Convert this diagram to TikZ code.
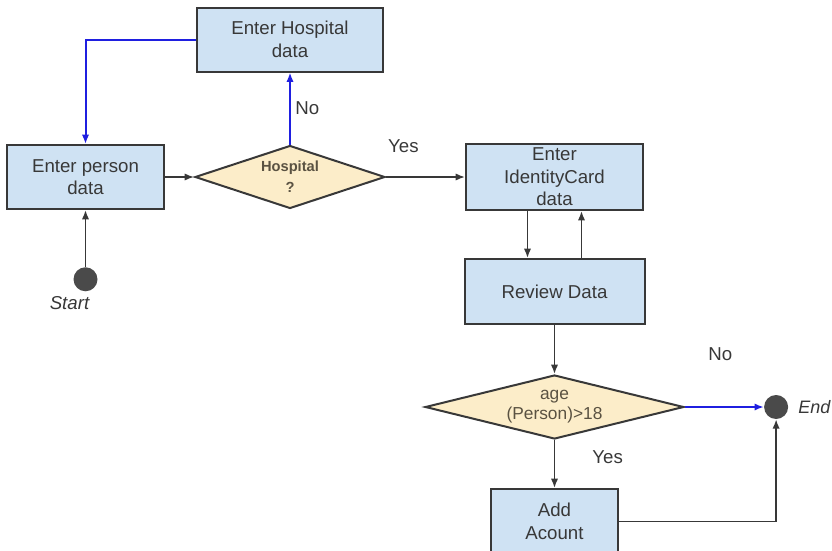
\documentclass[tikz,border=0pt]{standalone}
\usepackage{fontspec}
\setmainfont{Liberation Sans}
\definecolor{boxfill}{HTML}{CFE2F3}
\definecolor{decfill}{HTML}{FCEDC9}
\definecolor{edge}{HTML}{383838}
\definecolor{dectext}{HTML}{5A5242}
\definecolor{dotgray}{HTML}{4A4A4A}
\definecolor{loopblue}{HTML}{1F1FE0}
\usetikzlibrary{arrows.meta,positioning,shapes.geometric}

\begin{document}
\begin{tikzpicture}[
  x=0.75pt, y=-0.75pt,
  box/.style={draw=edge, line width=1.5pt, fill=boxfill, align=center, text=edge,
              font=\fontsize{14}{17}\selectfont, inner sep=0pt},
  dec/.style={diamond, draw=edge, line width=1.5pt, fill=decfill, align=center,
              text=dectext, inner sep=0pt},
  dot/.style={circle, fill=dotgray, minimum size=18pt, inner sep=0pt},
  lbl/.style={font=\fontsize{14}{17}\selectfont, text=edge},
  ar/.style ={-{Latex[length=7pt,width=5.5pt]}, line width=1.3pt, draw=edge},
  bar/.style={ar, draw=loopblue, line width=1.5pt},
]
  \useasboundingbox (0,0) rectangle (832,550);

  % ---- first row: person, hospital check, identity card ----
  \node[box, minimum width=117.75pt, minimum height=48pt] (person) at (85.5,177) {Enter person\\data};
  \node[dec, aspect=3, font=\fontsize{11}{16}\bfseries, minimum width=142.5pt, minimum height=47.25pt,
        right=21.75pt of person] (hosp) {Hospital\\?};
  \node[box, minimum width=139.5pt, minimum height=48pt, above=54pt of hosp] (hospdata) {Enter Hospital\\data};
  \node[box, minimum width=132.75pt, minimum height=49.5pt, right=59.25pt of hosp] (ident) {Enter\\IdentityCard\\data};

  % ---- right column ----
  \node[box, minimum width=135pt, minimum height=48.75pt, below=35.25pt of ident] (review) {Review Data};
  \node[dec, aspect=4, font=\fontsize{13}{15}\selectfont, minimum width=194pt, minimum height=48pt,
        below=36.75pt of review] (age) {age\\(Person)>18};
  \node[box, minimum width=95.25pt, minimum height=48.75pt, below=36pt of age] (add) {Add\\Acount};

  % ---- start / end points ----
  \node[dot, below=42.75pt of person,
        label={[lbl, font=\fontsize{14}{17}\itshape, xshift=-12pt, label distance=0pt]below:Start}] (start) {};
  \node[dot, right=59.25pt of age,
        label={[lbl, font=\fontsize{13.5}{16}\itshape, label distance=4pt]right:End}] (end) {};

  % ---- connectors ----
  \draw[ar]  (start) -- (person);
  \draw[ar]  (person) -- (hosp);
  \draw[bar] (hosp) -- node[lbl, right] {No} (hospdata);
  \draw[bar] (hospdata.west) -| (person.north);
  \draw[ar]  (hosp) -- node[lbl, pos=0.22, above=14pt] {Yes} (ident);
  \draw[ar]  ([xshift=-20.25pt]ident.south) -- ([xshift=-20.25pt]review.north);
  \draw[ar]  ([xshift=20.25pt]review.north) -- ([xshift=20.25pt]ident.south);
  \draw[ar]  (review) -- (age);
  \draw[bar] (age) -- node[lbl, pos=0.45, above=31pt] {No} (end);
  \draw[ar]  (age) -- node[lbl, pos=0.35, right=24.5pt] {Yes} (add);
  \draw[ar]  (add.east) -| (end.south);
\end{tikzpicture}
\end{document}
